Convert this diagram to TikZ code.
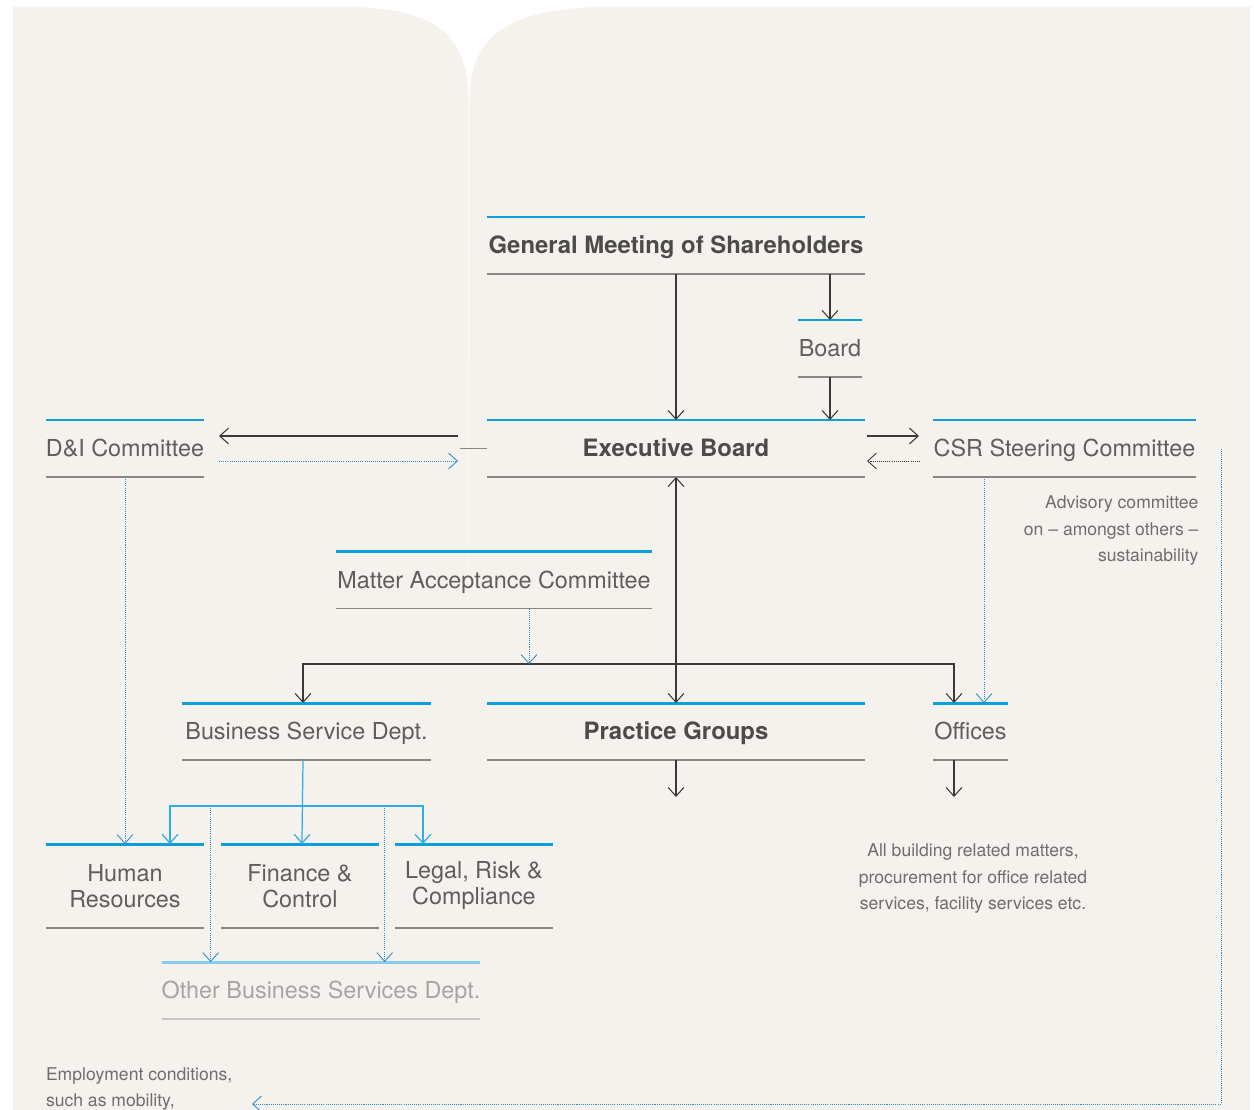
\documentclass[tikz,border=0pt]{standalone}
\usepackage{fontspec}
\setmainfont{TeX Gyre Heros}
\usepackage{tikz}
\usetikzlibrary{arrows.meta,positioning,calc}
\definecolor{paper}{HTML}{F5F1EC}
\definecolor{skyline}{HTML}{0AA0DE}
\definecolor{paleline}{HTML}{86CDEB}
\definecolor{greyline}{HTML}{8A8683}
\definecolor{fadeline}{HTML}{C9C5C2}
\definecolor{ink}{HTML}{3A3A3A}
\definecolor{txtgrey}{HTML}{5E5E5E}
\definecolor{txtbold}{HTML}{4B4B4B}
\definecolor{faded}{HTML}{A7A5A3}
\definecolor{dotblue}{HTML}{2E8FD0}

\begin{document}
\begin{tikzpicture}[>={Straight Barb[length=5pt,width=9pt]},every node/.style={font=\fontsize{13.3}{14.8}\selectfont,text=txtgrey,align=center,inner sep=0pt,outer sep=0pt},unit/.style={minimum width=#1,minimum height=1.14cm,text height=9.6pt,text depth=0pt},block/.style={minimum width=#1,minimum height=1.68cm},head/.style={font=\fontsize{13.6}{15}\selectfont\bfseries,text=txtbold},note/.style={font=\fontsize{10}{15}\selectfont,text=txtgrey!90},headrule/.style={draw=skyline,line width=1.7pt},footrule/.style={draw=greyline,line width=0.8pt},link/.style={draw=ink,line width=0.6pt,->},bluelink/.style={draw=skyline!85,line width=0.7pt,->},dotlink/.style={draw=dotblue,line width=0.5pt,dash pattern=on 0.6pt off 0.6pt,->},dotgrey/.style={dotlink,draw=ink}]
\useasboundingbox (0,0) rectangle (25.08,-22.2);
\fill[paper] (0.26,-22.2) -- (0.26,-0.14) -- (6.9,-0.14) .. controls (8.7,-0.14) and (9.37,-0.7) .. (9.37,-2.0) -- (9.38,-22.2) -- cycle;
\fill[paper] (9.37,-22.2) -- (9.39,-2.0) .. controls (9.39,-0.7) and (10.2,-0.14) .. (12.2,-0.14) -- (25.0,-0.14) -- (25.0,-22.2) -- cycle;

\node[unit=7.56cm,head] (gm) at (13.52,-4.91) {General Meeting of Shareholders};
\node[unit=1.28cm] (board) at (16.6,-6.97) {Board};
\node[unit=7.56cm,head,below=2.92cm of gm] (eb) {Executive Board};
\node[unit=3.16cm,left=5.66cm of eb] (di) {D\&I Committee};
\node[unit=5.26cm,right=1.36cm of eb] (csr) {CSR Steering Committee};
\node[unit=6.32cm] (mac) at (9.88,-11.6) {Matter Acceptance Committee};
\node[unit=7.56cm,head,below=4.52cm of eb] (pg) {Practice Groups};
\node[unit=1.5cm,right=1.36cm of pg] (offices) {Offices};
\node[unit=4.98cm] (bsd) at (6.13,-14.63) {Business Service Dept.};
\node[block=3.16cm,below=7.34cm of di] (hr) {Human\\Resources};
\node[block=3.16cm,right=0.34cm of hr] (fc) {Finance \&\\Control};
\node[block=3.16cm,right=0.32cm of fc] (lrc) {Legal, Risk \&\\Compliance};
\node[unit=6.24cm,text=faded] (obsd) at (6.42,-19.81) {Other Business Services Dept.};

\node[note,align=right,anchor=north east] (adv) at (23.97,-9.92) {Advisory committee\\on – amongst others –\\sustainability};
\node[note,anchor=north] (bld) at (19.46,-16.88) {All building related matters,\\procurement for office related\\services, facility services etc.};
\node[note,align=left,anchor=north west] (empl) at (0.92,-21.35) {Employment conditions,\\such as mobility,};

\foreach \n in {gm,board,eb,di,csr,mac,bsd,pg,offices,hr,fc,lrc} {
  \draw[headrule] (\n.north west) -- (\n.north east);
  \draw[footrule] (\n.south west) -- (\n.south east);
}
\draw[headrule,draw=paleline] (obsd.north west) -- (obsd.north east);
\draw[footrule,draw=fadeline] (obsd.south west) -- (obsd.south east);

\draw[link] (gm.south) -- (eb.north);
\draw[link] (gm.south -| board.south) -- (board.north);
\draw[link] (board.south) -- (board.south |- eb.north);
\draw[link] ($(eb.west)+(-0.58,0.25)$) -- ($(di.east)+(0.3,0.25)$);
\draw[dotlink] ($(di.east)+(0.3,-0.25)$) -- ($(eb.west)+(-0.58,-0.25)$);
\draw[footrule] ($(eb.west)+(-0.54,0)$) -- (eb.west);
\draw[link] ($(eb.east)+(0.04,0.25)$) -- ($(csr.west)+(-0.28,0.25)$);
\draw[dotgrey] ($(csr.west)+(-0.26,-0.25)$) -- ($(eb.east)+(0.04,-0.25)$);
\draw[link,<->] (eb.south) -- (pg.north);
\coordinate (bus) at ($(eb.south)+(0,-3.74)$);
\draw[link,<->] ($(bsd.north)+(-0.07,0)$) |- (bus) -| ($(offices.north)+(-0.33,0)$);
\coordinate (macx) at ($(mac.south)+(0.7,0)$);
\draw[dotlink] (macx) -- (macx |- bus);
\draw[dotlink] ($(csr.south west)+(1.02,0)$) -- ($(offices.north west)+(1.02,0)$);
\coordinate (pgout) at ($(pg.south)+(0,-0.74)$);
\draw[link] (pg.south) -- (pgout);
\coordinate (offout) at ($(offices.south)+(-0.33,-0.74)$);
\draw[link] ($(offices.south)+(-0.33,0)$) -- (offout);
\coordinate (tree) at ($(bsd.south)+(-0.07,-0.92)$);
\draw[bluelink] ($(bsd.south)+(-0.07,0)$) -- ($(fc.north)+(0.04,0)$);
\draw[bluelink,<->] ($(hr.north)+(0.9,0)$) |- (tree) -| ($(lrc.north)+(-1.02,0)$);
\coordinate (o1) at ($(obsd.north west)+(0.98,0)$);
\coordinate (o2) at ($(obsd.north west)+(4.46,0)$);
\draw[dotlink] (o1 |- tree) -- (o1);
\draw[dotlink] (o2 |- tree) -- (o2);
\draw[dotlink] (di.south) -- (hr.north);
\coordinate (emplin) at (5.04,-22.08);
\draw[dotlink] ($(csr.east)+(0.5,0)$) |- (emplin);
\end{tikzpicture}
\end{document}
